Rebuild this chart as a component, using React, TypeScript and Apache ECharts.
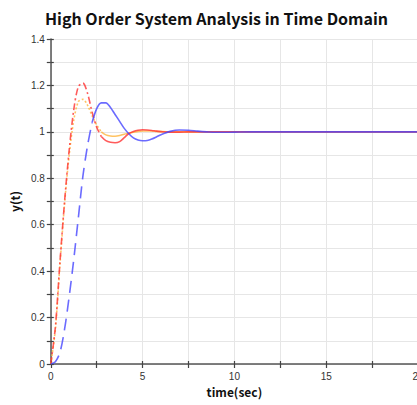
import React, { useEffect, useRef } from "react";
import * as echarts from "echarts";

const titleText = "High Order System Analysis in Time Domain";
const xName = "time(sec)";
const yName = "y(t)";

// time samples (sec)
const tRise = [0, 0.25, 0.5, 0.75, 1.0, 1.25, 1.5, 1.75, 2.0, 2.25, 2.5, 2.75];
const tTail = [3.0, 3.25, 3.5, 3.75, 4.0, 4.25, 4.5, 4.75, 5.0, 5.25, 5.5, 5.75, 6.0, 6.5, 7.0, 7.5, 8.0, 8.5, 9.0, 10, 11, 12, 14, 16, 18, 20];

// blue (long dashes)
const blueRise = [0, 0.01, 0.05, 0.15, 0.29, 0.45, 0.63, 0.81, 0.94, 1.04, 1.1, 1.125];
const blueTail = [1.125, 1.105, 1.075, 1.045, 1.015, 0.992, 0.974, 0.965, 0.962, 0.963, 0.969, 0.978, 0.988, 1.002, 1.008, 1.007, 1.003, 1.0, 0.998, 0.999, 1.0, 1.0, 1.0, 1.0, 1.0, 1.0];
// red (dash-dot)
const redRise = [0, 0.16, 0.44, 0.7, 0.92, 1.095, 1.195, 1.21, 1.166, 1.085, 1.02, 0.98];
const redTail = [0.962, 0.955, 0.953, 0.958, 0.975, 0.993, 1.002, 1.007, 1.009, 1.008, 1.006, 1.003, 1.001, 0.999, 0.999, 1.0, 1.0, 1.0, 1.0, 1.0, 1.0, 1.0, 1.0, 1.0, 1.0, 1.0];
// orange (dotted)
const orangeRise = [0, 0.15, 0.43, 0.69, 0.9, 1.05, 1.13, 1.14, 1.115, 1.07, 1.03, 1.0];
const orangeTail = [0.987, 0.982, 0.981, 0.984, 0.99, 0.994, 0.998, 1.002, 1.004, 1.004, 1.004, 1.002, 1.001, 1.0, 1.0, 1.0, 1.0, 1.0, 1.0, 1.0, 1.0, 1.0, 1.0, 1.0, 1.0, 1.0];

const BLUE = "rgba(70,70,255,0.8)";
const RED = "rgba(255,50,50,0.8)";
const ORANGE = "rgba(255,180,60,0.8)";

const pairs = (ts: number[], ys: number[]) => ts.map((t, i) => [t, ys[i]]);

export default function App() {
  const ref = useRef<HTMLDivElement>(null);
  useEffect(() => {
    if (!ref.current) return;
    const chart = echarts.init(ref.current, undefined, { renderer: "svg" });
    const tailFrom = (ts: number[], ys: number[], tt: number[], yt: number[]) =>
      [[ts[ts.length - 1], ys[ys.length - 1]], ...pairs(tt, yt)];
    const mk = (name: string, data: number[][], color: string, dash: any, z: number) => ({
      name,
      type: "line",
      data,
      xAxisIndex: 0,
      yAxisIndex: 0,
      showSymbol: false,
      symbol: "none",
      smooth: 0.3,
      z,
      lineStyle: { color, width: 1.6, type: dash },
    });
    const nameStyle = { fontFamily: "Noto Sans CJK KR", fontWeight: "bold", fontSize: 12, color: "#111" };
    const labelBase = { fontFamily: "Liberation Sans", fontSize: 10, color: "#333" };
    const tickStyle = { color: "#444", width: 1.2 };
    chart.setOption({
      animation: false,
      title: {
        text: titleText,
        left: "center",
        top: 5,
        textStyle: { fontFamily: "Noto Sans CJK KR", fontWeight: "bold", fontSize: 16, color: "#111" },
      },
      grid: { left: 50, right: 15, top: 39, bottom: 41 },
      xAxis: [
        {
          type: "value",
          position: "bottom",
          min: 0,
          max: 20,
          interval: 2.5,
          name: xName,
          nameLocation: "middle",
          nameGap: 20,
          nameTextStyle: nameStyle,
          axisLine: { show: true, lineStyle: { color: "#555", width: 1.5 } },
          axisTick: { show: true, length: 4, lineStyle: tickStyle },
          axisLabel: {
            ...labelBase,
            margin: 7,
            formatter: (v: number) => (Math.round(v * 2) % 10 === 0 ? String(Math.round(v)) : ""),
          },
          splitLine: { show: true, lineStyle: { color: "#e6e6e6", width: 1 } },
        },
        {
          type: "value",
          position: "bottom",
          offset: 0,
          min: 0,
          max: 20,
          interval: 2.5,
          axisLine: { show: false },
          axisTick: { show: true, inside: true, length: 3, lineStyle: tickStyle },
          axisLabel: { show: false },
          splitLine: { show: false },
        },
      ],
      yAxis: [
        {
          type: "value",
          position: "left",
          min: 0,
          max: 1.4,
          interval: 0.1,
          name: yName,
          nameLocation: "middle",
          nameGap: 26,
          nameTextStyle: nameStyle,
          axisLine: { show: true, lineStyle: { color: "#555", width: 1.5 } },
          axisTick: { show: true, length: 4, lineStyle: tickStyle },
          axisLabel: {
            ...labelBase,
            margin: 6,
            formatter: (v: number) => {
              const k = Math.round(v * 10);
              return k % 2 === 0 ? String(+(k / 10).toFixed(1)) : "";
            },
          },
          splitLine: { show: true, lineStyle: { color: "#e6e6e6", width: 1 } },
        },
        {
          type: "value",
          position: "left",
          offset: 0,
          min: 0,
          max: 1.4,
          interval: 0.1,
          axisLine: { show: false },
          axisTick: { show: true, inside: true, length: 3, lineStyle: tickStyle },
          axisLabel: { show: false },
          splitLine: { show: false },
        },
      ],
      series: [
        mk("orange", pairs(tRise, orangeRise), ORANGE, [2, 2], 2),
        mk("orange2", tailFrom(tRise, orangeRise, tTail, orangeTail), ORANGE, "solid", 2),
        mk("red", pairs(tRise, redRise), RED, [7, 3, 2, 3], 3),
        mk("red2", tailFrom(tRise, redRise, tTail, redTail), RED, "solid", 3),
        mk("blue", pairs(tRise.slice(0, 10), blueRise.slice(0, 10)), BLUE, [12, 7], 4),
        mk("blue2", [...pairs(tRise.slice(9), blueRise.slice(9)), ...pairs(tTail, blueTail)], BLUE, "solid", 4),
      ],
    });
    return () => chart.dispose();
  }, []);
  return (
    <div style={{ position: "fixed", left: 0, top: 0, width: 417, height: 405, overflow: "hidden", background: "#fff" }}>
      <div ref={ref} style={{ width: 433, height: 405 }} />
    </div>
  );
}
